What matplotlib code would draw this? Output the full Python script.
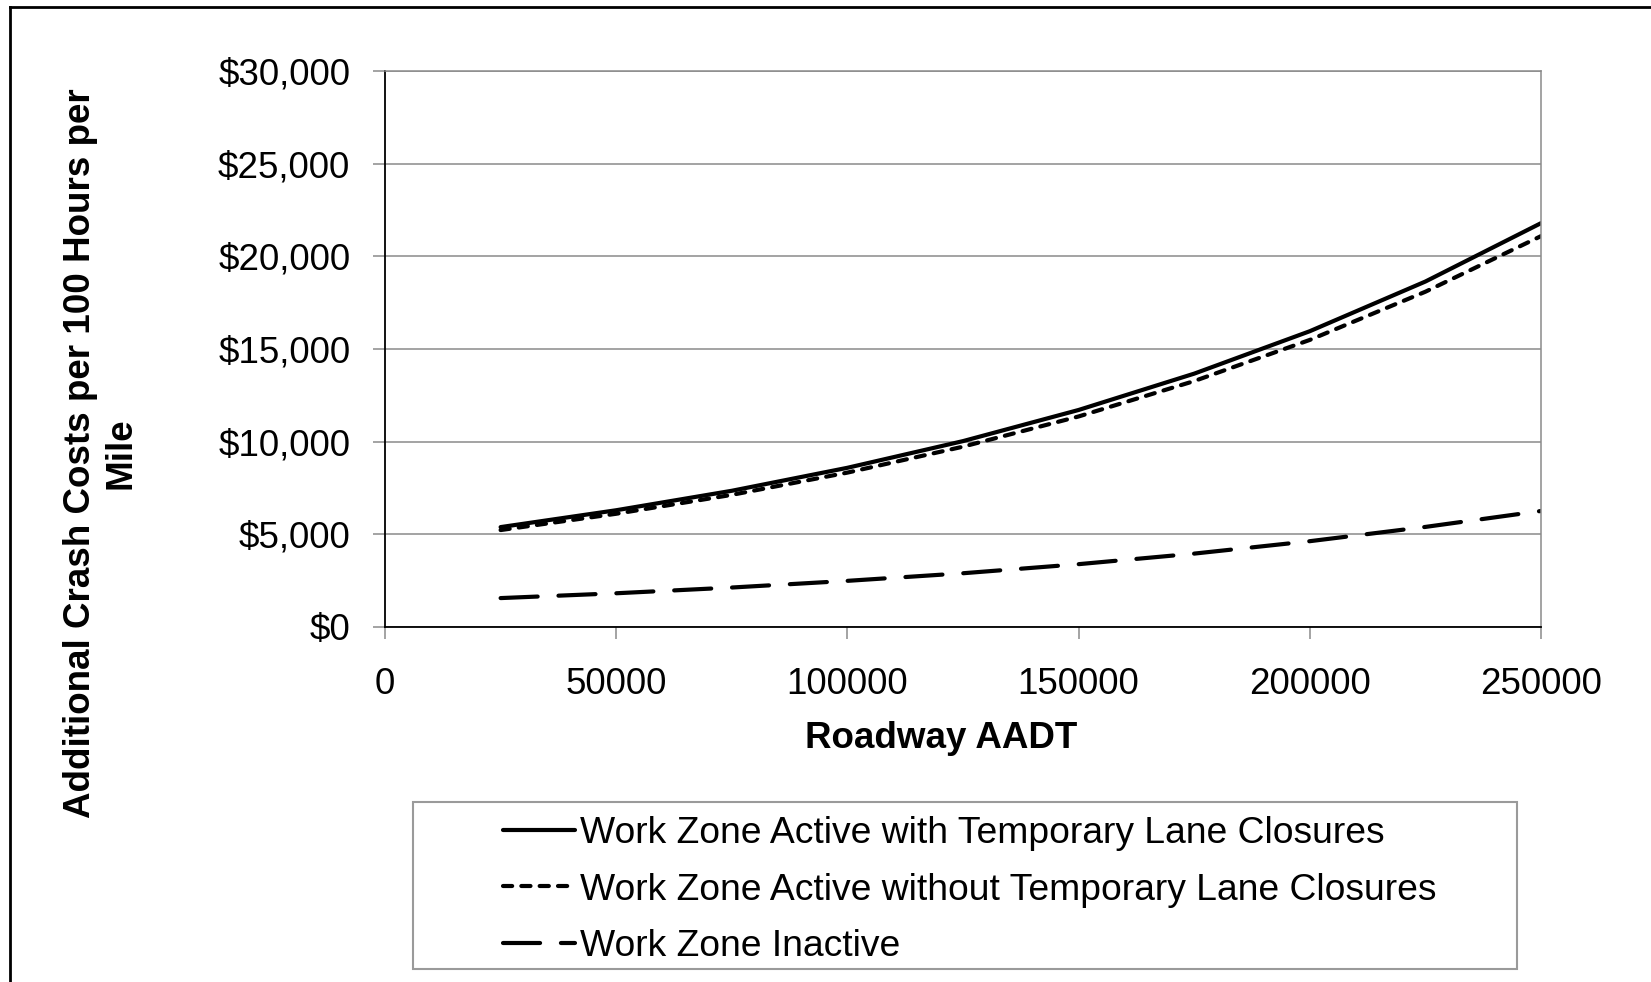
import numpy as np
import matplotlib
matplotlib.use("Agg")
import matplotlib.pyplot as plt
from matplotlib.ticker import FuncFormatter
from matplotlib.lines import Line2D
from matplotlib.patches import Rectangle

plt.rcParams['font.family'] = ['Liberation Sans', 'DejaVu Sans']

# data
aadt = [25000, 50000, 75000, 100000, 125000, 150000, 175000, 200000, 225000, 250000]
with_closures = [5390, 6300, 7350, 8590, 10030, 11710, 13670, 15960, 18640, 21790]
without_closures = [5230, 6110, 7130, 8330, 9730, 11360, 13270, 15490, 18090, 21090]
inactive = [1560, 1820, 2130, 2490, 2900, 3390, 3960, 4630, 5400, 6260]

labels = ['Work Zone Active with Temporary Lane Closures',
          'Work Zone Active without Temporary Lane Closures',
          'Work Zone Inactive']

W, H = 1651, 982
fig = plt.figure(figsize=(W / 100, H / 100), dpi=100)
ax = fig.add_axes([385 / W, 1 - 627 / H, (1541 - 385) / W, (627 - 71) / H])

fs = 26.5
grey = '#8a8a8a'

l1, = ax.plot(aadt, with_closures, color='black', lw=3, solid_capstyle='round')
l2, = ax.plot(aadt, without_closures, color='black', lw=3, dashes=(2.2, 2.2),
              dash_capstyle='round')
l3, = ax.plot(aadt, inactive, color='black', lw=3, dashes=(8.9, 5),
              dash_capstyle='round')

ax.set_xlim(0, 250000)
ax.set_ylim(0, 30000)
ax.set_xticks(np.arange(0, 250001, 50000))
ax.set_yticks(np.arange(0, 30001, 5000))
ax.yaxis.set_major_formatter(FuncFormatter(lambda v, p: '${:,.0f}'.format(v)))
ax.xaxis.set_major_formatter(FuncFormatter(lambda v, p: '{:.0f}'.format(v)))
ax.grid(axis='y', color=grey, lw=1.1)
ax.set_axisbelow(True)
ax.tick_params(axis='both', direction='out', length=8.5, width=1.1, color=grey,
               labelsize=fs)
ax.tick_params(axis='y', pad=16.5)
ax.tick_params(axis='x', pad=20)
for s in ['top', 'right']:
    ax.spines[s].set_color(grey)
    ax.spines[s].set_linewidth(1.1)
for s in ['left', 'bottom']:
    ax.spines[s].set_color('black')
    ax.spines[s].set_linewidth(1.3)

fig.text(941 / W, 1 - 738 / H, 'Roadway AADT', fontsize=fs, fontweight='bold',
         ha='center', va='center')
fig.text(101 / W, 1 - 453 / H, 'Additional Crash Costs per 100 Hours per\nMile',
         fontsize=fs, fontweight='bold', rotation=90, ha='center', va='center',
         multialignment='center')

# legend box
fig.patches.append(Rectangle((413 / W, 1 - 969 / H), (1517 - 413) / W, (969 - 802) / H,
                             transform=fig.transFigure, fill=False,
                             edgecolor='#9a9a9a', lw=1.5))
fig.legend([l1, l2, l3], labels, loc='center left',
           bbox_to_anchor=(503 / W, 1 - 890 / H), frameon=False, fontsize=26.8,
           handlelength=1.93, handletextpad=0.15, borderpad=0, borderaxespad=0,
           labelspacing=0.58)

# outer border (only top and left visible)
fig.add_artist(Line2D([10 / W, 10 / W], [0, 1 - 7 / H], transform=fig.transFigure,
                      color='black', lw=2))
fig.add_artist(Line2D([10 / W, 1], [1 - 7 / H, 1 - 7 / H], transform=fig.transFigure,
                      color='black', lw=2))

fig.savefig('out.png', dpi=100)
